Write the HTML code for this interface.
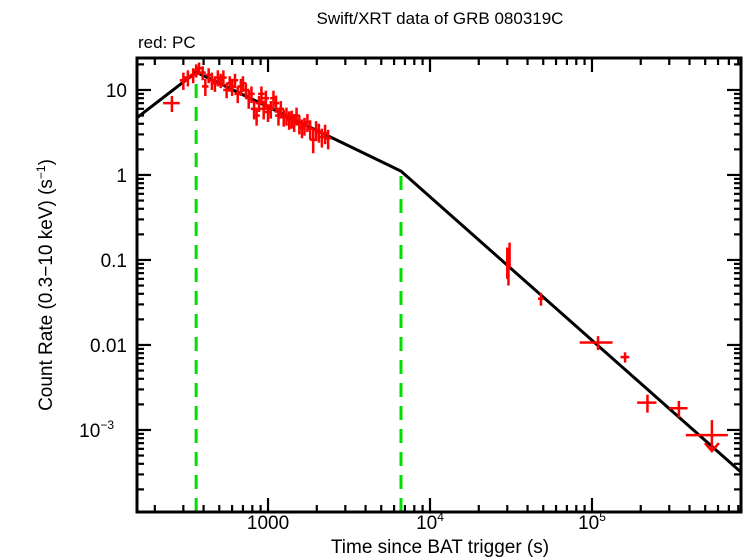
<!DOCTYPE html>
<html><head><meta charset="utf-8"><style>
body{margin:0;background:#fff;}
svg{display:block;font-family:"Liberation Sans",sans-serif;}
</style></head><body>
<svg id="chart" width="746" height="558" viewBox="0 0 746 558">
<text x="440" y="24" font-size="17" text-anchor="middle">Swift/XRT data of GRB 080319C</text>
<text x="138" y="48" font-size="17">red: PC</text>
<text x="440" y="553" font-size="19" text-anchor="middle">Time since BAT trigger (s)</text>
<text transform="translate(52,285) rotate(-90)" font-size="19" text-anchor="middle">Count Rate (0.3−10 keV) (s<tspan dy="-7" font-size="12">−1</tspan><tspan dy="7">)</tspan></text>
<g id="grid"></g>
<g id="model"></g>
<g id="data"></g>
<rect x="137" y="58" width="604" height="454" fill="none" stroke="#000" stroke-width="3"/>
</svg>
<script>
const xDomain=[2.191,5.92], yDomain=[-3.965,1.376];
const xTickDecades=[3,4,5];
const xTickLabels=["1000","10","10"];
const xTickExps=["","4","5"];
const yTickDecades=[1,0,-1,-2,-3];
const yTickLabels=["10","1","0.1","0.01","10"];
const yTickExps=["","","","","−3"];
const breakTimes=[360,6620];
const modelT=[155,360,6620,830000];
const modelR=[4.7,16.2,1.11,0.00032];
// PC data: time, rate, time error, rate error
const dataT=[255,300,320,345,360,375,395,410,430,450,470,490,510,530,555,580,600,625,650,680,700,730,760,790,820,850,880,910,940,970,1000,1040,1080,1120,1160,1200,1250,1300,1350,1400,1450,1500,1560,1620,1680,1750,1820,1900,1980,2060,2150,2250,2350,30000,30500,31000,48400,109000,160000,220000,344000];
const dataR=[7.0,13,14,15,17,18,16,11,15,13,12,14,13,14,10,12,11,13,9,11,12,10,8,9,6,5,7,9,6,8,5.5,6,8,7,5,6,4.8,5,4.5,4.6,4.2,5,4,3.6,3.8,4.2,3.5,2.6,3.4,3.2,2.8,3.1,2.7,0.1,0.08,0.12,0.035,0.0107,0.0072,0.0021,0.0018];
const dataTErr=[30,15,15,16,16,17,18,19,20,21,22,23,24,25,26,27,28,29,30,32,33,34,36,37,38,40,41,42,44,45,47,48,50,52,54,56,58,60,63,65,68,70,73,75,78,81,85,88,92,96,100,105,110,400,400,400,2000,25000,10000,30000,45000];
const dataRErr=[1.5,3,3,3,3,3,3,2.5,3,3,2.5,3,2.5,3,2,2.5,2.5,2.5,2,2.5,2.5,2,2,2,1.5,1.2,1.5,2,1.5,1.8,1.3,1.4,1.8,1.6,1.2,1.4,1.1,1.2,1.1,1.1,1,1.2,1,0.9,0.9,1,0.9,0.8,0.9,0.8,0.7,0.8,0.7,0.04,0.03,0.04,0.006,0.002,0.001,0.0005,0.0004];
const ulT=[550000], ulR=[0.00087], ulTErr=[[170000,140000]];

const L=137,R=741,T=58,B=512;
const X=t=>L+(Math.log10(t)-xDomain[0])/(xDomain[1]-xDomain[0])*(R-L);
const Y=r=>B-(Math.log10(r)-yDomain[0])/(yDomain[1]-yDomain[0])*(B-T);
const NS="http://www.w3.org/2000/svg";
function mk(tag,attrs,parent){const e=document.createElementNS(NS,tag);for(const k in attrs)e.setAttribute(k,attrs[k]);parent.appendChild(e);return e;}
const grid=document.getElementById('grid'),model=document.getElementById('model'),data=document.getElementById('data');

for(let d=2;d<=5;d++){for(let m=1;m<10;m++){const v=m*Math.pow(10,d);const lv=Math.log10(v);if(lv<xDomain[0]||lv>xDomain[1])continue;const x=X(v);const len=m===1?14:7;
const a=mk('line',{x1:x,x2:x,y1:B,y2:B-len,stroke:'#000','stroke-width':2.2},grid);
const b=mk('line',{x1:x,x2:x,y1:T,y2:T+len,stroke:'#000','stroke-width':2.2},grid);}}
xTickDecades.forEach((d,i)=>{const t=mk('text',{x:X(Math.pow(10,d)),y:529,'font-size':19,'text-anchor':'middle'},grid);t.textContent=xTickLabels[i];
if(xTickExps[i]){const s=mk('tspan',{dy:-8,'font-size':12},t);s.textContent=xTickExps[i];}
});
for(let d=-4;d<=1;d++){for(let m=1;m<10;m++){const v=m*Math.pow(10,d);const lv=Math.log10(v);if(lv<yDomain[0]||lv>yDomain[1])continue;const y=Y(v);const len=m===1?14:7;
const a=mk('line',{x1:L,x2:L+len,y1:y,y2:y,stroke:'#000','stroke-width':2.2},grid);
const b=mk('line',{x1:R,x2:R-len,y1:y,y2:y,stroke:'#000','stroke-width':2.2},grid);}}
yTickDecades.forEach((d,i)=>{const t=mk('text',{x:yTickExps[i]?114:127,y:Y(Math.pow(10,d))+7,'font-size':19,'text-anchor':'end'},grid);t.textContent=yTickLabels[i];
if(yTickExps[i]){const s=mk('tspan',{dy:-8,'font-size':12},t);s.textContent=yTickExps[i];}
});
breakTimes.forEach((bt,i)=>{const l=mk('line',{x1:X(bt),x2:X(bt),y1:B,y2:Y(modelR[i+1]),stroke:'#00e000','stroke-width':3,'stroke-dasharray':'14,9'},model);
});
const pts=modelT.map((t,i)=>X(t)+','+Y(modelR[i])).join(' ');
const pl=mk('polyline',{points:pts,fill:'none',stroke:'#000','stroke-width':3},model);

dataT.forEach((t,i)=>{const g=mk('g',{stroke:'#f00','stroke-width':2.5},data);

const e=dataTErr[i],r=dataR[i],re=dataRErr[i];
mk('line',{x1:X(t-e),x2:X(t+e),y1:Y(r),y2:Y(r)},g);
mk('line',{x1:X(t),x2:X(t),y1:Y(Math.max(r-re,1e-5)),y2:Y(r+re)},g);});
ulT.forEach((t,i)=>{const g=mk('g',{stroke:'#f00','stroke-width':2.5,fill:'none'},data);

const x=X(t),y=Y(ulR[i]);
mk('line',{x1:X(t-ulTErr[i][0]),x2:X(t+ulTErr[i][1]),y1:y,y2:y},g);
mk('line',{x1:x,x2:x,y1:y-15,y2:y+16},g);
mk('polyline',{points:(x-7)+','+(y+8)+' '+x+','+(y+16)+' '+(x+7)+','+(y+8)},g);});
</script>
</body></html>
